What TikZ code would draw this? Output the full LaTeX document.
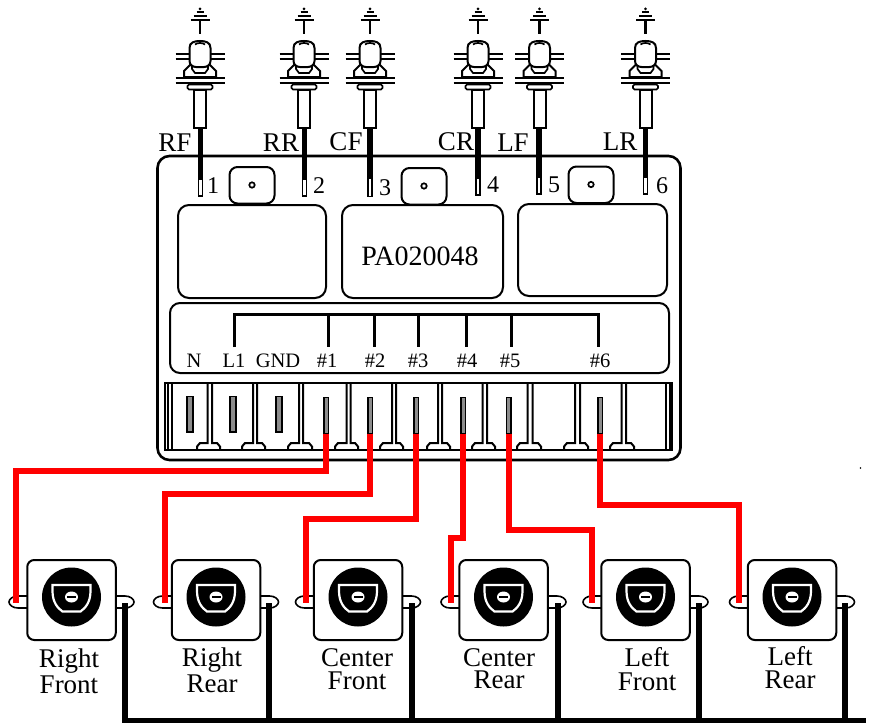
\documentclass[tikz,border=0pt]{standalone}
\usepackage{fontspec}
\setmainfont{Liberation Serif}
\tikzset{
  ln/.style={draw=black,line width=2pt},
  thin ln/.style={draw=black,line width=1.7pt},
  panelbox/.style={ln,rounded corners=11pt,fill=white},
  knobbox/.style={ln,rounded corners=8pt,fill=white},
  redwire/.style={draw=red,line width=6pt},
  blackwire/.style={draw=black,line width=6pt},
  buswire/.style={draw=black,line width=3pt},
  big/.style={font=\fontsize{27}{27}\selectfont,inner sep=0pt,anchor=base},
  num/.style={font=\fontsize{24}{24}\selectfont,inner sep=0pt,anchor=base},
  small/.style={font=\fontsize{20.5}{20.5}\selectfont,inner sep=0pt,anchor=base},
  socklabel/.style={font=\fontsize{27}{#1}\selectfont,align=center,inner sep=0pt,anchor=south},
  pinbox/.style={draw=black,line width=1.5pt,fill=black!45,minimum width=4.5pt,inner sep=0pt,anchor=north},
  sockbox/.style={ln,rounded corners=7pt,fill=white,minimum width=88.5pt,minimum height=80pt,inner sep=0pt},
  lamp/.pic={
    % insulator symbol on top
    \fill (0,8.8) circle (1.5);
    \draw[line width=2pt] (-3.5,12.3)--(3.5,12.3) (-6.5,16)--(6.5,16) (-9.5,20)--(9.5,20);
    \draw[line width=2.4pt] (0,20)--(0,34);
    % horizontal bars
    \draw[line width=2pt] (-24.5,54)--(24.5,54) (-24.5,59)--(24.5,59);
    % lower holder
    \draw[ln,fill=white] (-10,65)--(-16,71)--(-16,77)--(16,77)--(16,71)--(10,65)--cycle;
    \draw[thin ln,fill=white] (-8,66)--(-8,69)--(-5,73)--(5,73)--(8,69)--(8,66);
    % head
    \draw[ln,fill=white] (-10.5,48) .. controls (-10.5,42.5) and (-6,41) .. (0,41) .. controls (6,41) and (10.5,42.5) .. (10.5,48)
      -- (10.5,61) .. controls (10.5,65) and (7,67) .. (4,67) -- (-4,67) .. controls (-7,67) and (-10.5,65) .. (-10.5,61) -- cycle;
    \draw[line width=1.7pt] (-5,44.5) .. controls (-3,42.5) and (3,42.5) .. (5,44.5);
    % flange
    \draw[line width=2pt] (-24.5,78)--(24.5,78) (-24.5,83)--(24.5,83);
    % collar and tube
    \draw[thin ln,fill=white,rounded corners=1.5pt] (-12.5,84.5) rectangle (12.5,89.5);
    \draw[ln,fill=white] (-6,89.5) rectangle (6,128);
  },
  sockface/.pic={
    \fill (0,-3) circle (29.5);
    \draw[draw=white,line width=2.2pt,fill=black] (-19,-15) -- (19,-15) -- (19,-9) .. controls (19,2) and (14,8) .. (9,11.5) -- (-9,11.5) .. controls (-14,8) and (-19,2) .. (-19,-9) -- cycle;
    \fill[white] (0,-3) ellipse (6.5 and 5.5);
    \fill (-4.5,-4) rectangle (4.5,-2);
  },
  eyeleft/.pic={\draw[line width=1.6pt,fill=white] (18,-6) -- (9,-6) .. controls (4,-6) and (0,-3) .. (0,0) .. controls (0,3) and (4,6) .. (9,6) -- (18,6);},
  eyeright/.pic={\draw[line width=1.6pt,fill=white] (-18,-6) -- (-9,-6) .. controls (-4,-6) and (0,-3) .. (0,0) .. controls (0,3) and (-4,6) .. (-9,6) -- (-18,6);},
}
\begin{document}
\begin{tikzpicture}[x=1pt,y=-1pt]
\useasboundingbox (0,0) rectangle (870,723);
\fill[white] (0,0) rectangle (870,723);

% lamps
\foreach \n/\x in {1/200,2/304,3/370,4/478,5/539.5,6/645.5}{
  \pic at (\x,0) {lamp};
}

% main housing
\draw[line width=2.6pt,rounded corners=12pt,fill=white] (157.5,156) rectangle (680.5,460);

% lamp leads
\foreach \n/\x/\e/\b in {1/200.5/195/178,2/304.5/195/178,3/370/195.5/177,4/478/194/177,5/539/193/176,6/645.5/193/176}{
  \coordinate (lamp\n) at (\x,128);
  \node[draw=black,line width=1.5pt,fill=white,minimum width=4pt,minimum height=\e pt-\b pt,inner sep=0pt,anchor=north] (lead\n) at (\x,\b) {};
  \draw[draw=black,line width=5.5pt] (lamp\n) -- (lead\n.north);
}

% upper panels and knobs
\draw[panelbox] (178,205) rectangle (326,298);
\draw[panelbox] (342,205) rectangle (503,298);
\draw[panelbox] (518,204) rectangle (667,296);
\foreach \x/\y in {252/185,424/186,591/184.5}{
  \draw[knobbox] (\x-22.5,\y-18) rectangle (\x+22.5,\y+18.5);
  \draw[line width=1.7pt] (\x,\y) circle (2.7);
}

% labels at lamps
\node[big] at (175,151) {RF};
\node[big] at (281,151) {RR};
\node[big] at (346,150) {CF};
\node[big] at (456,150) {CR};
\node[big] at (513,151) {LF};
\node[big] at (620,150) {LR};
\node[num] at (213,193) {1};
\node[num] at (319,193) {2};
\node[num] at (385,195) {3};
\node[num] at (493,192) {4};
\node[num] at (554,192) {5};
\node[num] at (662,193) {6};
\node[big,font=\fontsize{28}{28}\selectfont] at (420,265) {PA020048};

% terminal label panel
\draw[panelbox,rounded corners=10pt] (170,303) rectangle (669,373);
\node[small] (tN) at (194,367) {N};
\node[small] (tL) at (234,367) {L1};
\node[small] (tG) at (278,367) {GND};
\node[small] (ta) at (327,367) {\#1};
\node[small] (tb) at (375,367) {\#2};
\node[small] (tc) at (418,367) {\#3};
\node[small] (td) at (467,367) {\#4};
\node[small] (te) at (510,367) {\#5};
\node[small] (tf) at (600,367) {\#6};
\coordinate (busL) at (234,347);
\coordinate (busR) at (598,347);
\coordinate (busY) at (0,314);
\draw[buswire] (busL) -- (busL|-busY) -- (busR|-busY) -- (busR);
\foreach \x in {328,374,418,466.5,511}{
  \draw[buswire] (\x,314) -- (\x,347);
}

% terminal strip
\draw[ln,fill=white] (165,383) rectangle (672,450);
\foreach \a/\b in {167.5/171.5,666/670}{
  \draw[ln] (\a,383)--(\a,450) (\b,383)--(\b,450);
}
\foreach \a/\b/\l/\r in {207.5/212/197/220,253/257/242/265,299/303/288/312,346.5/350.5/335/358,392/396/380/403,438/442/427/450,482.5/487/472/495,527.5/532.5/517/541,575/580/564/588,621.5/626/610/634}{
  \draw[ln,fill=white] (\l,450) -- (\l,446.5) -- (\l+3,443) -- (\a,443) -- (\a,383) (\b,383) -- (\b,443) -- (\r-3,443) -- (\r,446.5) -- (\r,450);
}
\foreach \n/\x in {1/190,2/233,3/279}{
  \draw[draw=black,line width=1.7pt,fill=black!45] (\x-2.7,396.5) rectangle (\x+2.7,432);
}
\foreach \n/\x in {1/326,2/370,3/416,4/463,5/508.5,6/600}{
  \node[pinbox,minimum height=36pt] (pin\n) at (\x,396.5) {};
}

% sockets
\foreach \n/\c/\er in {1/71.5/125,2/216/269,3/358/412,4/503.5/558,5/645.5/699,6/792/845}{
  \pic at (\c-62.5,602) {eyeleft};
  \pic at (\c+62.5,602) {eyeright};
  \node[sockbox] (sock\n) at (\c,600) {};
  \pic at (\c,600) {sockface};
  \coordinate (right\n) at (\er,603);
}
\coordinate (left1) at (15.5,603);
\coordinate (left2) at (165,603);
\coordinate (left3) at (306,603);
\coordinate (left4) at (451,603);
\coordinate (left5) at (592,603);
\coordinate (left6) at (739,603);

% red wires
\coordinate (row1) at (0,470.5);
\coordinate (row2) at (0,494);
\coordinate (row3) at (0,519);
\coordinate (row4) at (0,538);
\coordinate (row5) at (0,530);
\coordinate (row6) at (0,505);
\foreach \n in {1,...,6}{
  \draw[redwire] (pin\n.south) -- (pin\n.south|-row\n) -| (left\n);
}

% black return wires
\coordinate (busend) at (866,720.5);
\draw[blackwire,line width=5.5pt] (right1) |- (busend);
\foreach \n in {2,...,6}{
  \draw[blackwire] (right\n) -- (right\n|-busend);
}

% socket labels
\node[socklabel=26] at (69,694) {Right\\Front};
\node[socklabel=26] at (212,693) {Right\\Rear};
\node[socklabel=23] at (357,690) {Center\\Front};
\node[socklabel=22] at (499,689) {Center\\Rear};
\node[socklabel=24] at (647,691) {Left\\Front};
\node[socklabel=23] at (790,689) {Left\\Rear};

\fill (860.5,468) circle (0.8);
\end{tikzpicture}
\end{document}
